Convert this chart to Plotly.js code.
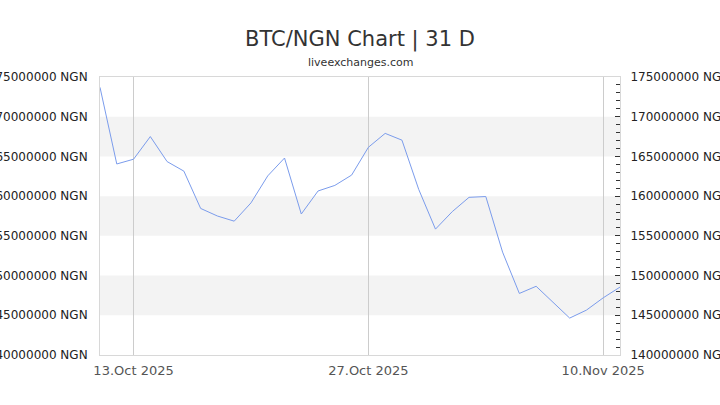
<!DOCTYPE html>
<html>
<head>
<meta charset="utf-8">
<script src="https://cdn.plot.ly/plotly-3.0.1.min.js"></script>
<style>html,body{margin:0;padding:0;background:#fff;}#chart{width:720px;height:405px;}</style>
</head>
<body>
<div id="chart"></div>
<script>
const dates = [
  "2025-10-11","2025-10-12","2025-10-13","2025-10-14","2025-10-15","2025-10-16","2025-10-17","2025-10-18",
  "2025-10-19","2025-10-20","2025-10-21","2025-10-22","2025-10-23","2025-10-24","2025-10-25","2025-10-26",
  "2025-10-27","2025-10-28","2025-10-29","2025-10-30","2025-10-31","2025-11-01","2025-11-02","2025-11-03",
  "2025-11-04","2025-11-05","2025-11-06","2025-11-07","2025-11-08","2025-11-09","2025-11-10","2025-11-11"
];
const rates = [
  173700000,164050000,164650000,167500000,164350000,163150000,158450000,157500000,
  156850000,159150000,162550000,164800000,157750000,160650000,161350000,162650000,
  166150000,167900000,167050000,160850000,155850000,158050000,159850000,159950000,
  152950000,147750000,148650000,146600000,144650000,145650000,147200000,148550000
];
const xTickVals = ["2025-10-13","2025-10-27","2025-11-10"];
const xTickText = ["13.Oct 2025","27.Oct 2025","10.Nov 2025"];
const bandRanges = [[145000000,150000000],[155000000,160000000],[165000000,170000000]];

const font = "DejaVu Sans, sans-serif";
const shapes = bandRanges.map(b => ({
  type:"rect", xref:"paper", yref:"y", x0:0, x1:1, y0:b[0], y1:b[1],
  fillcolor:"#f3f3f3", line:{width:0}, layer:"below"
}));

const traces = [
  {x:dates, y:rates, type:"scatter", mode:"lines", line:{color:"#7b9cec", width:1}, hoverinfo:"x+y", yaxis:"y"},
  {x:dates, y:rates, type:"scatter", mode:"lines", line:{color:"rgba(0,0,0,0)", width:0}, hoverinfo:"skip", yaxis:"y2"}
];

const yCommon = {
  range:[140000000,175000000], tick0:140000000, dtick:5000000,
  tickformat:"d", ticksuffix:" NGN", showgrid:false, zeroline:false,
  tickfont:{family:font, size:12, color:"#222"}, fixedrange:true
};

const layout = {
  width:720, height:405,
  margin:{l:100, r:100, t:77, b:50},
  paper_bgcolor:"#fff", plot_bgcolor:"rgba(0,0,0,0)",
  showlegend:false,
  title:{text:"BTC/NGN Chart | 31 D", x:0.5, xanchor:"center", y:0.905, yanchor:"middle",
         font:{family:font, size:21, color:"#333"}},
  annotations:[{text:"liveexchanges.com", xref:"paper", yref:"paper", x:0.5, y:1, yshift:15,
               xanchor:"center", yanchor:"middle", showarrow:false,
               font:{family:font, size:11, color:"#333"}}],
  xaxis:{type:"date", range:["2025-10-11","2025-11-11"], tickvals:xTickVals, ticktext:xTickText,
         showgrid:true, gridcolor:"#cccccc", gridwidth:1, showline:true, linecolor:"#d8d8d8", mirror:true,
         ticks:"", ticklabelstandoff:3, tickfont:{family:font, size:13, color:"#555"}, zeroline:false},
  yaxis:Object.assign({}, yCommon, {side:"left", showline:true, linecolor:"#d8d8d8", ticks:"", ticklabelstandoff:9}),
  yaxis2:Object.assign({}, yCommon, {side:"right", overlaying:"y", showline:true, linecolor:"#d8d8d8",
         ticks:"inside", ticklen:5, tickcolor:"#333", tickwidth:1, ticklabelstandoff:7,
         minor:{ticks:"inside", dtick:1000000, ticklen:4, tickcolor:"#333", tickwidth:1, showgrid:false}}),
  shapes:shapes
};

Plotly.newPlot("chart", traces, layout, {displayModeBar:false, staticPlot:true});
</script>
</body>
</html>
